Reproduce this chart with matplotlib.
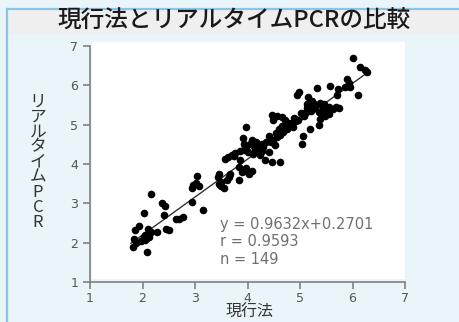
import matplotlib
matplotlib.use("Agg")
import matplotlib.pyplot as plt
from matplotlib.patches import Rectangle
import numpy as np

plt.rcParams['font.family'] = ['Noto Sans CJK JP', 'DejaVu Sans']

title = "現行法とリアルタイムPCRの比較"
xlabel = "現行法"
ylabel = "リアルタイムPCR"

# values (149 samples)
x_vals = [
    6.00, 6.14, 6.24, 6.28, 5.89, 5.96, 6.10, 5.58, 5.73, 5.33,
    5.71, 4.99, 4.95, 5.16, 5.23, 5.27, 5.13, 5.38, 5.44, 5.51,
    5.69, 5.74, 5.14, 5.20, 5.29, 5.36, 5.42, 5.55, 5.48, 5.01,
    5.08, 4.89, 4.97, 5.38, 5.37, 5.19, 5.06, 5.03, 4.87, 4.78,
    4.71, 4.65, 4.56, 4.46, 4.48, 4.66, 4.75, 4.68, 4.62, 4.56,
    4.49, 4.52, 4.40, 4.36, 3.98, 3.92, 3.93, 4.08, 4.17, 4.24,
    4.30, 4.27, 4.19, 4.14, 4.11, 3.98, 3.93, 3.86, 3.76, 3.70,
    3.62, 3.57, 4.23, 4.40, 4.34, 4.61, 4.46, 3.86, 3.84, 3.91,
    3.98, 4.03, 4.09, 3.97, 3.83, 3.67, 3.64, 3.60, 3.46, 3.44,
    3.49, 3.04, 3.02, 2.97, 3.07, 2.94, 3.16, 2.38, 2.43, 2.40,
    2.16, 2.64, 2.70, 2.78, 2.02, 1.94, 1.86, 1.83, 1.81, 2.11,
    2.17, 2.27, 2.02, 2.05, 2.09, 1.98, 2.08, 2.51, 4.20, 4.12,
    4.05, 4.28, 3.95, 4.00, 5.30, 5.22, 5.45, 5.55, 5.62, 4.70,
    4.60, 4.55, 4.80, 2.05, 2.12, 1.88, 3.50, 3.45, 3.90, 5.85,
    5.93, 4.92, 4.85, 3.75, 3.55, 2.45, 2.95, 5.10, 4.45,
]
y_vals = [
    6.69, 6.46, 6.39, 6.33, 6.16, 5.95, 5.75, 5.99, 5.90, 5.93,
    5.75, 5.84, 5.76, 5.70, 5.61, 5.53, 5.53, 5.56, 5.46, 5.39,
    5.46, 5.42, 5.42, 5.36, 5.42, 5.33, 5.27, 5.27, 5.21, 5.29,
    5.22, 5.16, 5.11, 5.14, 4.99, 4.89, 4.70, 4.51, 4.94, 5.04,
    5.12, 5.19, 5.22, 5.25, 5.11, 4.97, 4.89, 4.82, 4.75, 4.68,
    4.61, 4.48, 4.70, 4.56, 4.94, 4.65, 4.51, 4.61, 4.56, 4.48,
    4.43, 4.34, 4.31, 4.38, 4.26, 4.39, 4.36, 4.33, 4.29, 4.24,
    4.19, 4.12, 4.22, 4.31, 4.10, 4.06, 4.06, 4.09, 3.92, 3.85,
    3.83, 3.75, 3.81, 3.90, 3.60, 3.75, 3.68, 3.60, 3.75, 3.66,
    3.44, 3.70, 3.51, 3.46, 3.43, 3.04, 2.82, 3.00, 2.92, 2.71,
    3.24, 2.61, 2.61, 2.66, 2.75, 2.43, 2.31, 2.09, 1.88, 2.36,
    2.27, 2.26, 2.15, 2.07, 2.11, 2.05, 1.76, 2.31, 4.40, 4.45,
    4.50, 4.52, 4.42, 4.30, 5.50, 5.45, 5.52, 5.45, 5.40, 4.95,
    4.90, 4.80, 5.00, 2.20, 2.15, 2.00, 3.55, 3.50, 3.80, 5.95,
    6.05, 5.10, 5.05, 4.20, 3.40, 2.35, 3.40, 5.30, 4.55,
]
slope = 0.9632
intercept = 0.2701
r_value = 0.9593
n_value = 149
ticks = [1, 2, 3, 4, 5, 6, 7]

fig = plt.figure(figsize=(4.59, 3.22), dpi=100)
fig.patch.set_facecolor("#eaf5fa")

# frame: blue border lines, grey title band, white plot panel (kept under the axes)
fig.patches.append(Rectangle((8/459, 1 - 34/322), 1, 24/322, transform=fig.transFigure,
                             facecolor="#efefef", edgecolor="none", zorder=-2))
fig.lines.append(plt.Line2D([7/459, 7/459], [0, 1 - 9/322], transform=fig.transFigure,
                            color="#8cc4e6", lw=1.6, zorder=-1))
fig.lines.append(plt.Line2D([7/459, 1], [1 - 9/322, 1 - 9/322], transform=fig.transFigure,
                            color="#8cc4e6", lw=1.6, zorder=-1))
fig.patches.append(Rectangle((92/459, 1 - 279/322), 313/459, 237/322, transform=fig.transFigure,
                             facecolor="white", edgecolor="none", zorder=-2))

fig.text(234/459, 1 - 21/322, title, ha="center", va="center", fontsize=17,
         fontweight="medium", color="#1a1a1a")

ax = fig.add_axes([90/459, 40/322, 315/459, 236/322])
ax.set_facecolor("none")
ax.set_xlim(1, 7)
ax.set_ylim(1, 7)
ax.set_xticks(ticks)
ax.set_yticks(ticks)
for s in ["top", "right"]:
    ax.spines[s].set_visible(False)
for s in ["left", "bottom"]:
    ax.spines[s].set_color("#808080")
    ax.spines[s].set_linewidth(1.2)
ax.tick_params(colors="#808080", labelcolor="#555555", labelsize=9, length=5, width=1.2)
ax.tick_params(axis="x", pad=2)
for lab in ax.get_xticklabels() + ax.get_yticklabels():
    lab.set_family("DejaVu Sans")

ax.scatter(x_vals, y_vals, s=20, color="black", zorder=3, clip_on=False)
xl = np.array([1.78, 6.3])
ax.plot(xl, slope * xl + intercept, color="#333333", lw=1.0, zorder=2)

stats = [f"y = {slope}x+{intercept}", f"r = {r_value}", f"n = {n_value}"]
for i, line in enumerate(stats):
    ax.text(220/459, 1 - (225 + 17 * i)/322, line, transform=fig.transFigure,
            ha="left", va="center", fontsize=10.5, color="#707070", family="DejaVu Sans")

fig.text(250/459, 1 - 312/322, xlabel, ha="center", va="center", fontsize=11.5, color="#333333")
fig.text(38/459, 1 - 162/322, "\n".join(ylabel), ha="center", va="center", fontsize=12,
         color="#333333", linespacing=0.85)

fig.savefig("out.png", dpi=100, facecolor=fig.get_facecolor())
